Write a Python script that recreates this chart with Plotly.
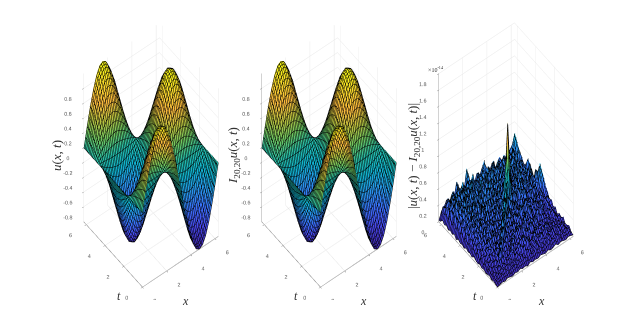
import plotly.graph_objects as go

x_values = [0, 0.26, 0.52, 0.79, 1.05, 1.31, 1.57, 1.83, 2.09, 2.36, 2.62, 2.88, 3.14, 3.4, 3.67, 3.93, 4.19, 4.45, 4.71, 4.97, 5.24, 5.5, 5.76, 6.02, 6.28]
t_values = [0, 0.26, 0.52, 0.79, 1.05, 1.31, 1.57, 1.83, 2.09, 2.36, 2.62, 2.88, 3.14, 3.4, 3.67, 3.93, 4.19, 4.45, 4.71, 4.97, 5.24, 5.5, 5.76, 6.02, 6.28]

# rows are t, columns are x
u_values = [
    [0, .26, .5, .71, .87, .97, 1, .97, .87, .71, .5, .26, 0, -.26, -.5, -.71, -.87, -.97, -1, -.97, -.87, -.71, -.5, -.26, 0],
    [0, .25, .48, .69, .84, .94, .97, .94, .84, .69, .48, .25, 0, -.25, -.48, -.69, -.84, -.94, -.97, -.94, -.84, -.69, -.48, -.25, 0],
    [0, .22, .43, .61, .75, .84, .87, .84, .75, .61, .43, .22, 0, -.22, -.43, -.61, -.75, -.84, -.87, -.84, -.75, -.61, -.43, -.22, 0],
    [0, .18, .35, .5, .61, .69, .71, .69, .61, .5, .35, .18, 0, -.18, -.35, -.5, -.61, -.69, -.71, -.69, -.61, -.5, -.35, -.18, 0],
    [0, .13, .25, .35, .43, .48, .5, .48, .43, .35, .25, .13, 0, -.13, -.25, -.35, -.43, -.48, -.5, -.48, -.43, -.35, -.25, -.13, 0],
    [0, .07, .13, .18, .22, .25, .26, .25, .22, .18, .13, .07, 0, -.07, -.13, -.18, -.22, -.25, -.26, -.25, -.22, -.18, -.13, -.07, 0],
    [0, 0, 0, 0, 0, 0, 0, 0, 0, 0, 0, 0, 0, 0, 0, 0, 0, 0, 0, 0, 0, 0, 0, 0, 0],
    [0, -.07, -.13, -.18, -.22, -.25, -.26, -.25, -.22, -.18, -.13, -.07, 0, .07, .13, .18, .22, .25, .26, .25, .22, .18, .13, .07, 0],
    [0, -.13, -.25, -.35, -.43, -.48, -.5, -.48, -.43, -.35, -.25, -.13, 0, .13, .25, .35, .43, .48, .5, .48, .43, .35, .25, .13, 0],
    [0, -.18, -.35, -.5, -.61, -.69, -.71, -.69, -.61, -.5, -.35, -.18, 0, .18, .35, .5, .61, .69, .71, .69, .61, .5, .35, .18, 0],
    [0, -.22, -.43, -.61, -.75, -.84, -.87, -.84, -.75, -.61, -.43, -.22, 0, .22, .43, .61, .75, .84, .87, .84, .75, .61, .43, .22, 0],
    [0, -.25, -.48, -.69, -.84, -.94, -.97, -.94, -.84, -.69, -.48, -.25, 0, .25, .48, .69, .84, .94, .97, .94, .84, .69, .48, .25, 0],
    [0, -.26, -.5, -.71, -.87, -.97, -1, -.97, -.87, -.71, -.5, -.26, 0, .26, .5, .71, .87, .97, 1, .97, .87, .71, .5, .26, 0],
    [0, -.25, -.48, -.69, -.84, -.94, -.97, -.94, -.84, -.69, -.48, -.25, 0, .25, .48, .69, .84, .94, .97, .94, .84, .69, .48, .25, 0],
    [0, -.22, -.43, -.61, -.75, -.84, -.87, -.84, -.75, -.61, -.43, -.22, 0, .22, .43, .61, .75, .84, .87, .84, .75, .61, .43, .22, 0],
    [0, -.18, -.35, -.5, -.61, -.69, -.71, -.69, -.61, -.5, -.35, -.18, 0, .18, .35, .5, .61, .69, .71, .69, .61, .5, .35, .18, 0],
    [0, -.13, -.25, -.35, -.43, -.48, -.5, -.48, -.43, -.35, -.25, -.13, 0, .13, .25, .35, .43, .48, .5, .48, .43, .35, .25, .13, 0],
    [0, -.07, -.13, -.18, -.22, -.25, -.26, -.25, -.22, -.18, -.13, -.07, 0, .07, .13, .18, .22, .25, .26, .25, .22, .18, .13, .07, 0],
    [0, 0, 0, 0, 0, 0, 0, 0, 0, 0, 0, 0, 0, 0, 0, 0, 0, 0, 0, 0, 0, 0, 0, 0, 0],
    [0, .07, .13, .18, .22, .25, .26, .25, .22, .18, .13, .07, 0, -.07, -.13, -.18, -.22, -.25, -.26, -.25, -.22, -.18, -.13, -.07, 0],
    [0, .13, .25, .35, .43, .48, .5, .48, .43, .35, .25, .13, 0, -.13, -.25, -.35, -.43, -.48, -.5, -.48, -.43, -.35, -.25, -.13, 0],
    [0, .18, .35, .5, .61, .69, .71, .69, .61, .5, .35, .18, 0, -.18, -.35, -.5, -.61, -.69, -.71, -.69, -.61, -.5, -.35, -.18, 0],
    [0, .22, .43, .61, .75, .84, .87, .84, .75, .61, .43, .22, 0, -.22, -.43, -.61, -.75, -.84, -.87, -.84, -.75, -.61, -.43, -.22, 0],
    [0, .25, .48, .69, .84, .94, .97, .94, .84, .69, .48, .25, 0, -.25, -.48, -.69, -.84, -.94, -.97, -.94, -.84, -.69, -.48, -.25, 0],
    [0, .26, .5, .71, .87, .97, 1, .97, .87, .71, .5, .26, 0, -.26, -.5, -.71, -.87, -.97, -1, -.97, -.87, -.71, -.5, -.26, 0],
]
# the interpolant is indistinguishable from u at this scale
interp_values = u_values

err_x = [0, .21, .42, .63, .84, 1.05, 1.26, 1.47, 1.68, 1.88, 2.09, 2.3, 2.51, 2.72, 2.93, 3.14, 3.35, 3.56, 3.77, 3.98, 4.19, 4.4, 4.61, 4.82, 5.03, 5.24, 5.45, 5.65, 5.86, 6.07, 6.28]
err_t = [0, .21, .42, .63, .84, 1.05, 1.26, 1.47, 1.68, 1.88, 2.09, 2.3, 2.51, 2.72, 2.93, 3.14, 3.35, 3.56, 3.77, 3.98, 4.19, 4.4, 4.61, 4.82, 5.03, 5.24, 5.45, 5.65, 5.86, 6.07, 6.28]

# in units of 1e-14, rows are t, columns are x
err_values = [
    [0, .01, .02, .01, .03, .02, .01, .03, .02, .04, .02, .03, .01, .04, .02, .03, .02, .04, .03, .02, .04, .02, .03, .05, .02, .04, .03, .02, .04, .03, .02],
    [.01, .05, .03, .07, .04, .08, .03, .06, .09, .04, .07, .05, .1, .04, .08, .06, .11, .05, .09, .04, .08, .12, .05, .09, .06, .11, .04, .08, .05, .09, .03],
    [.02, .03, .09, .04, .1, .05, .12, .06, .04, .11, .06, .13, .05, .09, .14, .06, .1, .15, .07, .12, .05, .11, .16, .06, .1, .07, .13, .05, .1, .06, .08],
    [.01, .08, .04, .13, .06, .11, .05, .14, .08, .05, .15, .07, .12, .18, .06, .13, .08, .16, .06, .14, .19, .07, .12, .08, .16, .06, .12, .09, .14, .05, .06],
    [.03, .04, .12, .06, .2, .07, .15, .06, .13, .18, .07, .14, .2, .08, .15, .21, .08, .14, .2, .09, .15, .07, .18, .11, .06, .15, .08, .12, .06, .1, .05],
    [.02, .1, .05, .15, .08, .26, .09, .17, .07, .14, .2, .08, .16, .09, .22, .1, .17, .07, .15, .22, .08, .16, .09, .2, .13, .07, .14, .06, .11, .05, .11],
    [.01, .05, .14, .07, .18, .1, .3, .1, .19, .08, .16, .22, .09, .18, .11, .2, .08, .24, .12, .09, .2, .11, .17, .08, .15, .1, .07, .13, .06, .12, .07],
    [.03, .12, .06, .17, .09, .2, .13, .34, .11, .2, .09, .17, .24, .1, .19, .09, .22, .12, .18, .25, .1, .21, .09, .17, .08, .16, .11, .06, .14, .07, .1],
    [.02, .06, .16, .09, .21, .1, .22, .12, .37, .12, .22, .1, .19, .12, .25, .11, .17, .23, .1, .19, .13, .24, .12, .1, .2, .09, .15, .1, .17, .09, .06],
    [.04, .14, .08, .2, .11, .24, .1, .2, .14, .4, .13, .23, .11, .21, .1, .26, .13, .2, .27, .11, .22, .1, .19, .25, .11, .18, .08, .19, .08, .15, .12],
    [.02, .07, .18, .1, .25, .12, .27, .11, .23, .15, .43, .14, .25, .12, .27, .13, .21, .11, .2, .28, .13, .25, .11, .2, .12, .22, .13, .1, .18, .1, .09],
    [.03, .16, .09, .23, .11, .22, .14, .28, .12, .25, .16, .46, .15, .26, .12, .24, .11, .29, .14, .22, .12, .28, .14, .23, .1, .17, .24, .11, .2, .11, .16],
    [.05, .08, .2, .12, .26, .13, .29, .13, .24, .12, .27, .17, .48, .16, .28, .13, .3, .16, .23, .31, .11, .2, .26, .12, .27, .13, .21, .15, .1, .22, .13],
    [.02, .17, .1, .24, .14, .3, .12, .23, .15, .29, .13, .26, .18, .5, .17, .31, .14, .25, .13, .27, .16, .32, .13, .24, .15, .29, .12, .23, .18, .12, .2],
    [.04, .09, .22, .13, .27, .11, .26, .16, .31, .14, .3, .15, .28, .2, .52, .18, .27, .15, .33, .12, .24, .14, .3, .17, .26, .11, .25, .14, .27, .14, .24],
    [.03, .18, .11, .25, .15, .32, .14, .28, .12, .26, .17, .33, .14, .29, .22, .54, .2, .34, .14, .26, .16, .31, .12, .25, .14, .31, .16, .28, .12, .24, .32],
    [.05, .1, .24, .14, .29, .13, .31, .17, .33, .15, .28, .13, .31, .17, .36, .24, .56, .24, .35, .18, .3, .15, .27, .33, .18, .24, .13, .3, .17, .33, .38],
    [.02, .2, .12, .27, .16, .34, .15, .26, .14, .35, .18, .3, .16, .34, .15, .29, .28, .58, .27, .15, .33, .19, .36, .14, .28, .16, .35, .15, .28, .2, .45],
    [.04, .11, .26, .15, .31, .14, .33, .18, .36, .16, .29, .14, .36, .18, .31, .17, .38, .55, 1.16, .5, .2, .34, .16, .3, .19, .37, .14, .33, .2, .36, .3],
    [.03, .22, .13, .29, .17, .37, .16, .3, .15, .34, .19, .38, .15, .3, .19, .35, .16, .3, .52, .26, .37, .15, .31, .2, .38, .15, .29, .18, .38, .16, .22],
    [.05, .12, .28, .16, .34, .15, .28, .19, .38, .17, .33, .15, .35, .2, .37, .14, .34, .18, .28, .36, .17, .33, .22, .36, .15, .32, .2, .35, .15, .29, .18],
    [.02, .24, .14, .33, .18, .36, .17, .39, .14, .31, .2, .39, .17, .32, .16, .36, .2, .39, .15, .3, .21, .39, .14, .3, .18, .39, .16, .3, .21, .37, .24],
    [.06, .13, .3, .17, .38, .16, .34, .2, .36, .16, .4, .18, .34, .21, .41, .17, .31, .16, .37, .19, .35, .17, .38, .21, .34, .15, .37, .2, .34, .16, .28],
    [.03, .26, .15, .34, .19, .4, .18, .31, .17, .38, .19, .36, .16, .38, .18, .33, .22, .4, .17, .33, .2, .37, .16, .32, .2, .4, .17, .31, .22, .29, .34],
    [.05, .14, .32, .18, .36, .17, .42, .2, .4, .18, .34, .2, .42, .17, .3, .2, .38, .17, .35, .21, .4, .15, .34, .22, .38, .16, .33, .2, .37, .18, .24],
    [.03, .28, .16, .37, .2, .33, .19, .36, .18, .43, .16, .37, .19, .34, .22, .4, .16, .34, .23, .38, .18, .36, .2, .4, .17, .35, .21, .38, .16, .31, .2],
    [.06, .15, .33, .19, .4, .18, .38, .21, .35, .2, .41, .17, .33, .22, .4, .18, .36, .2, .41, .17, .33, .21, .38, .18, .36, .21, .39, .17, .35, .2, .27],
    [.04, .24, .17, .36, .21, .37, .2, .42, .17, .36, .2, .43, .18, .38, .17, .35, .21, .39, .17, .35, .2, .4, .17, .34, .2, .41, .18, .36, .22, .4, .3],
    [.07, .16, .3, .2, .34, .19, .36, .22, .38, .2, .36, .22, .4, .19, .34, .22, .37, .19, .36, .22, .38, .18, .33, .22, .37, .19, .38, .21, .38, .2, .35],
    [.03, .2, .15, .25, .18, .3, .2, .33, .21, .3, .23, .38, .22, .3, .2, .32, .24, .34, .2, .31, .22, .34, .19, .3, .23, .33, .2, .35, .24, .37, .42],
    [.02, .1, .14, .2, .13, .22, .18, .35, .17, .25, .2, .43, .19, .26, .18, .28, .22, .3, .38, .24, .2, .28, .17, .24, .3, .2, .27, .22, .3, .34, .47],
]

x_ticks = [0, 2, 4, 6]
t_ticks = [0, 2, 4, 6]
u_ticks = [-0.8, -0.6, -0.4, -0.2, 0, 0.2, 0.4, 0.6, 0.8]
u_tick_labels = ['-0.8', '-0.6', '-0.4', '-0.2', '0', '0.2', '0.4', '0.6', '0.8']
err_ticks = [0, 0.2, 0.4, 0.6, 0.8, 1, 1.2, 1.4, 1.6, 1.8]
err_tick_labels = ['0', '0.2', '0.4', '0.6', '0.8', '1', '1.2', '1.4', '1.6', '1.8']

parula = [
    [0.0, '#3e26a8'], [0.1, '#4748eb'], [0.2, '#3a70fb'], [0.3, '#2797eb'],
    [0.4, '#10b4d0'], [0.5, '#26bca6'], [0.6, '#6cc761'], [0.7, '#bac03e'],
    [0.8, '#fbb93d'], [0.9, '#f7d92b'], [1.0, '#f9fb15'],
]

W, H = 634, 323
MESH = '#000000'


def mesh(step):
    line = dict(show=True, color=MESH, width=1, start=0, end=6.28, size=step, highlight=False)
    return dict(x=line, y=line, z=dict(highlight=False))


def surface(x, y, z, scene, cmin, cmax, step):
    return go.Surface(
        x=x, y=y, z=z, scene=scene, colorscale=parula, cmin=cmin, cmax=cmax,
        showscale=False, hoverinfo='skip', contours=mesh(step),
        lighting=dict(ambient=1, diffuse=0, specular=0, fresnel=0),
    )


def axis(ticks, labels, rng, line=False):
    return dict(
        title=dict(text=''), range=rng, tickvals=ticks, ticktext=labels, tickangle=0,
        tickfont=dict(size=8, color='#555555', family='Liberation Sans'),
        showbackground=False, showgrid=True, gridcolor='#e6e6e6', gridwidth=1, zeroline=False,
        showline=line, linecolor='#888888', linewidth=1, ticks='outside', ticklen=2, tickcolor='#888888', showspikes=False,
    )


def scene(cx, cy, z_axis):
    w, h = 176, 290
    return dict(
        domain=dict(x=[(cx - w / 2) / W, (cx + w / 2) / W], y=[1 - (cy + h / 2) / H, 1 - (cy - h / 2) / H]),
        xaxis=axis(x_ticks, [str(v) for v in x_ticks], [0, 6.28], True),
        yaxis=axis(t_ticks, [str(v) for v in t_ticks], [0, 6.28], True),
        zaxis=z_axis,
        aspectmode='manual', aspectratio=dict(x=0.662, y=0.662, z=2.017),
        camera=dict(eye=dict(x=-1.0, y=-1.29, z=2.78), up=dict(x=0, y=0, z=1), projection=dict(type='orthographic')),
    )


def label(text, x, y, size=12, angle=0):
    return dict(text=text, x=x / W, y=1 - y / H, xref='paper', yref='paper', showarrow=False, textangle=angle,
                font=dict(family='Liberation Serif', size=size, color='#333333'), xanchor='center', yanchor='middle')


fig = go.Figure()
fig.add_trace(surface(x_values, t_values, u_values, 'scene', -1, 1, 0.13))
fig.add_trace(surface(x_values, t_values, interp_values, 'scene2', -1, 1, 0.13))
fig.add_trace(surface(err_x, err_t, err_values, 'scene3', 0, 1.16, 0.13))

fig.update_layout(
    width=W, height=H, margin=dict(l=0, r=0, t=0, b=0), paper_bgcolor='white', showlegend=False,
    scene=scene(143, 147, axis(u_ticks, u_tick_labels, [-1, 1])),
    scene2=scene(321, 147, axis(u_ticks, u_tick_labels, [-1, 1], True)),
    scene3=scene(498, 147, axis(err_ticks, err_tick_labels, [0, 1.8], True)),
    annotations=[
        label('<i>u</i>(<i>x</i>, <i>t</i>)', 48, 148, 13, -90),
        label('<i>I</i><sub>20,20</sub><i>u</i>(<i>x</i>, <i>t</i>)', 225, 148, 13, -90),
        label('|<i>u</i>(<i>x</i>, <i>t</i>) − <i>I</i><sub>20,20</sub><i>u</i>(<i>x</i>, <i>t</i>)|', 405, 148, 13, -90),
        label('<i>x</i>', 177, 293), label('<i>t</i>', 111, 288),
        label('<i>x</i>', 355, 293), label('<i>t</i>', 288, 288),
        label('<i>x</i>', 533, 293), label('<i>t</i>', 467, 288),
        label('×10<sup>-14</sup>', 428, 61, 6),
    ],
)

fig.write_html("out.html")
